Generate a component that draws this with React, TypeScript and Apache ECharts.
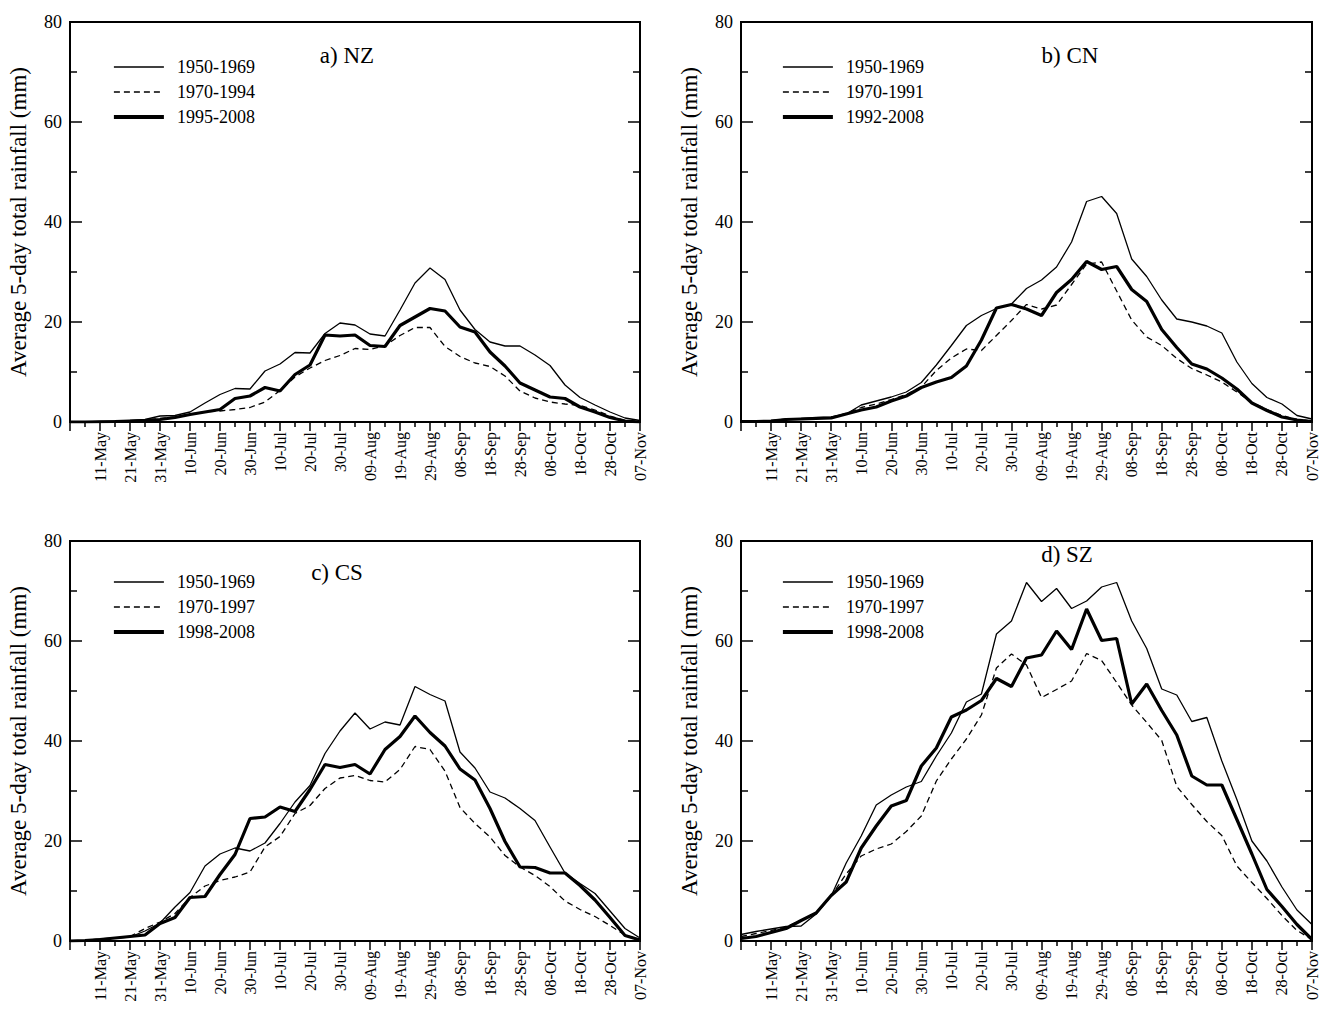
import React, { useEffect, useRef } from 'react';
import * as echarts from 'echarts';

// x positions: days since 01-May, one point per pentad
const pentadDays = [0, 5, 10, 15, 20, 25, 30, 35, 40, 45, 50, 55, 60, 65, 70, 75, 80, 85, 90, 95, 100, 105, 110, 115, 120, 125, 130, 135, 140, 145, 150, 155, 160, 165, 170, 175, 180, 185, 190];

// tick labels at days 10, 20, ..., 190
const xTickLabels = ['11-May', '21-May', '31-May', '10-Jun', '20-Jun', '30-Jun', '10-Jul', '20-Jul', '30-Jul', '09-Aug', '19-Aug', '29-Aug', '08-Sep', '18-Sep', '28-Sep', '08-Oct', '18-Oct', '28-Oct', '07-Nov'];

// a) NZ
const nzEarly = [0, 0, 0.1, 0.2, 0.3, 0.5, 1.2, 1.3, 2.0, 3.8, 5.5, 6.7, 6.6, 10.2, 11.6, 13.9, 13.8, 17.7, 19.8, 19.4, 17.6, 17.2, 22.4, 27.8, 30.8, 28.5, 22.4, 18.5, 16.0, 15.2, 15.2, 13.4, 11.3, 7.4, 4.9, 3.4, 2.0, 0.8, 0.3];
const nzMid = [0, 0, 0.05, 0.1, 0.2, 0.4, 0.7, 1.0, 1.6, 2.0, 2.2, 2.5, 2.9, 4.0, 6.3, 9.0, 10.8, 12.3, 13.3, 14.7, 14.5, 15.3, 17.3, 18.9, 18.9, 15.1, 13.1, 11.8, 11.1, 9.2, 6.2, 4.8, 4.0, 3.6, 3.3, 2.4, 1.2, 0.3, 0.1];
const nzLate = [0, 0, 0.05, 0.1, 0.2, 0.3, 0.5, 0.9, 1.5, 2.0, 2.5, 4.7, 5.2, 6.9, 6.2, 9.5, 11.4, 17.4, 17.2, 17.4, 15.3, 15.1, 19.3, 21.0, 22.7, 22.2, 19.0, 18.0, 14.0, 11.2, 7.8, 6.4, 5.0, 4.7, 3.0, 2.0, 0.9, 0.2, 0];

// b) CN
const cnEarly = [0.1, 0.2, 0.2, 0.6, 0.7, 0.9, 1.0, 1.6, 3.4, 4.2, 5.0, 6.0, 7.9, 11.4, 15.3, 19.3, 21.3, 22.7, 23.6, 26.7, 28.4, 31.0, 36.0, 44.1, 45.1, 41.7, 32.6, 29.1, 24.4, 20.6, 20.0, 19.2, 17.8, 12.0, 7.7, 4.9, 3.6, 1.3, 0.6];
const cnMid = [0.1, 0.2, 0.3, 0.5, 0.6, 0.8, 0.9, 1.7, 2.9, 3.6, 4.5, 5.5, 7.0, 10.3, 12.8, 14.6, 14.3, 17.3, 20.3, 23.5, 22.6, 23.4, 27.5, 31.6, 32.0, 26.2, 20.4, 17.0, 15.3, 12.7, 10.7, 9.4, 8.0, 6.0, 3.9, 2.5, 1.3, 0.5, 0.2];
const cnLate = [0.1, 0.1, 0.2, 0.5, 0.6, 0.7, 0.8, 1.6, 2.4, 3.0, 4.2, 5.2, 6.9, 8.0, 8.9, 11.2, 16.4, 22.8, 23.5, 22.6, 21.3, 25.9, 28.5, 32.1, 30.5, 31.1, 26.5, 24.1, 18.5, 14.9, 11.6, 10.6, 8.8, 6.6, 3.8, 2.3, 1.0, 0.4, 0.1];

// c) CS
const csEarly = [0, 0.1, 0.4, 0.6, 0.8, 2.0, 3.6, 6.8, 9.7, 15.0, 17.4, 18.6, 18.0, 19.6, 23.5, 27.8, 31.1, 37.5, 42.0, 45.6, 42.4, 43.8, 43.2, 50.9, 49.3, 48.0, 37.8, 34.6, 29.8, 28.6, 26.5, 24.1, 18.8, 13.6, 11.5, 9.5, 6.0, 2.5, 0.6];
const csMid = [0, 0.1, 0.3, 0.6, 0.9, 2.5, 3.8, 5.5, 8.7, 11.0, 12.1, 12.8, 13.8, 18.8, 20.9, 25.5, 27.1, 30.5, 32.6, 33.1, 32.1, 31.8, 34.3, 38.9, 38.3, 34.0, 26.7, 23.5, 20.8, 17.1, 14.8, 13.1, 10.9, 8.0, 6.3, 4.9, 3.1, 1.2, 0.3];
const csLate = [0, 0.1, 0.3, 0.6, 0.9, 1.2, 3.5, 4.7, 8.7, 8.9, 13.3, 17.3, 24.5, 24.8, 26.8, 25.9, 30.3, 35.3, 34.7, 35.3, 33.4, 38.3, 40.9, 45.0, 41.7, 39.0, 34.4, 32.2, 26.5, 19.9, 14.8, 14.7, 13.6, 13.6, 11.1, 8.2, 4.7, 1.1, 0.2];

// d) SZ
const szEarly = [1.3, 1.9, 2.4, 2.9, 3.0, 5.4, 9.0, 15.6, 21.0, 27.2, 29.2, 30.8, 31.9, 37.0, 41.6, 47.8, 49.4, 61.4, 64.0, 71.7, 67.9, 70.5, 66.5, 68.0, 70.8, 71.7, 64.0, 58.5, 50.4, 49.2, 43.9, 44.7, 36.0, 28.3, 20.0, 16.0, 10.8, 6.2, 3.3];
const szMid = [0.9, 1.5, 2.1, 2.8, 4.2, 5.7, 9.0, 13.4, 17.0, 18.4, 19.4, 21.9, 25.0, 32.0, 36.4, 40.4, 45.2, 54.6, 57.4, 55.2, 48.7, 50.3, 52.0, 57.5, 56.1, 51.7, 47.2, 43.7, 40.1, 30.9, 27.3, 23.9, 21.1, 15.0, 11.7, 8.5, 5.1, 2.1, 0.3];
const szLate = [0.5, 0.9, 1.7, 2.5, 4.1, 5.6, 9.1, 11.8, 18.6, 23.0, 27.0, 28.1, 35.0, 38.6, 44.8, 46.2, 48.1, 52.5, 50.9, 56.6, 57.2, 62.0, 58.3, 66.4, 60.1, 60.5, 47.4, 51.4, 46.1, 41.2, 33.0, 31.2, 31.2, 24.3, 17.4, 10.3, 6.9, 3.3, 0.3];

const panelTitles = ['a) NZ', 'b) CN', 'c) CS', 'd) SZ'];
const panelNames = [
  ['1950-1969', '1970-1994', '1995-2008'],
  ['1950-1969', '1970-1991', '1992-2008'],
  ['1950-1969', '1970-1997', '1998-2008'],
  ['1950-1969', '1970-1997', '1998-2008'],
];
const panelData = [
  [nzEarly, nzMid, nzLate],
  [cnEarly, cnMid, cnLate],
  [csEarly, csMid, csLate],
  [szEarly, szMid, szLate],
];

const yAxisTitle = 'Average 5-day total rainfall (mm)';

const FONT = 'Liberation Serif, Times New Roman, DejaVu Serif, serif';

const grids = [
  { left: 70, top: 22, width: 570, height: 400 },
  { left: 741, top: 22, width: 572, height: 400 },
  { left: 70, top: 541, width: 570, height: 400 },
  { left: 741, top: 541, width: 572, height: 400 },
];
const titlePos = [
  { x: 347, y: 44 },
  { x: 1070, y: 44 },
  { x: 337, y: 561 },
  { x: 1067, y: 543 },
];
const legendPos = [
  { x: 112, y: 58 },
  { x: 781, y: 58 },
  { x: 112, y: 573 },
  { x: 781, y: 573 },
];

const lineStyles = [
  { width: 1.3, type: 'solid' as any },
  { width: 1.3, type: [6, 4] as any },
  { width: 3.2, type: 'solid' as any },
];

function buildOption() {
  const xAxes: any[] = [];
  const yAxes: any[] = [];
  const series: any[] = [];
  const legends: any[] = [];
  const titles: any[] = [];

  grids.forEach((g, p) => {
    xAxes.push({
      gridIndex: p,
      type: 'value',
      min: 0,
      max: 190,
      interval: 10,
      axisLine: { show: true, onZero: false, lineStyle: { color: '#000', width: 2 } },
      axisTick: { show: true, inside: false, length: 9, lineStyle: { color: '#000', width: 1.5 } },
      minorTick: { show: true, splitNumber: 2, length: 5, lineStyle: { color: '#000', width: 1.5 } },
      splitLine: { show: false },
      minorSplitLine: { show: false },
      axisLabel: {
        rotate: 90,
        margin: 10,
        fontSize: 16,
        color: '#000',
        fontFamily: FONT,
        formatter: (v: number) => {
          const k = Math.round(v / 10) - 1;
          return k >= 0 && k < xTickLabels.length ? xTickLabels[k] : '';
        },
      },
    });
    const yCommon = {
      gridIndex: p,
      type: 'value',
      min: 0,
      max: 80,
      interval: 20,
      axisLine: { show: true, onZero: false, lineStyle: { color: '#000', width: 2 } },
      axisTick: { show: true, inside: true, length: 12, lineStyle: { color: '#000', width: 1.5 } },
      minorTick: { show: true, splitNumber: 2, length: 7, lineStyle: { color: '#000', width: 1.5 } },
      splitLine: { show: false },
      minorSplitLine: { show: false },
    };
    yAxes.push({
      ...yCommon,
      position: 'left',
      axisLabel: { show: true, margin: 8, fontSize: 18, color: '#000', fontFamily: FONT },
      name: yAxisTitle,
      nameLocation: 'middle',
      nameGap: 40,
      nameTextStyle: { fontSize: 23, color: '#000', fontFamily: FONT },
    });
    yAxes.push({
      ...yCommon,
      position: 'right',
      axisLabel: { show: false },
    });

    panelNames[p].forEach((name, s) => {
      series.push({
        type: 'line',
        name,
        xAxisIndex: p,
        yAxisIndex: p * 2,
        symbol: 'none',
        showSymbol: false,
        smooth: false,
        lineStyle: { color: '#000', width: lineStyles[s].width, type: lineStyles[s].type },
        itemStyle: { color: '#000' },
        data: pentadDays.map((d, i) => [d, panelData[p][s][i]]),
        z: 3 + s,
      });
    });

    legends.push({
      data: panelNames[p].map((name, s) => ({
        name,
        lineStyle: { color: '#000', width: lineStyles[s].width + (s === 2 ? 0.6 : 0), type: lineStyles[s].type },
      })),
      orient: 'vertical',
      left: legendPos[p].x,
      top: legendPos[p].y,
      padding: 0,
      itemWidth: 50,
      itemHeight: 16,
      itemGap: 7,
      selectedMode: false,
      itemStyle: { color: 'transparent', borderColor: 'transparent', borderWidth: 0, opacity: 0 },
      textStyle: { fontSize: 18, color: '#000', fontFamily: FONT, padding: [0, 0, 0, 8] },
    });

    titles.push({
      text: panelTitles[p],
      left: titlePos[p].x,
      top: titlePos[p].y,
      textAlign: 'center',
      padding: 0,
      textStyle: { fontSize: 23, fontWeight: 'normal', color: '#000', fontFamily: FONT },
    });
  });

  return {
    animation: false,
    backgroundColor: '#fff',
    title: titles,
    legend: legends,
    grid: grids.map((g) => ({ ...g, show: true, borderColor: '#000', borderWidth: 2, backgroundColor: 'transparent', containLabel: false })),
    xAxis: xAxes,
    yAxis: yAxes,
    series,
  };
}

export default function App() {
  const ref = useRef<HTMLDivElement>(null);
  useEffect(() => {
    if (!ref.current) return;
    const chart = echarts.init(ref.current, null, { renderer: 'svg' });
    chart.setOption(buildOption() as any);
    return () => chart.dispose();
  }, []);
  return (
    <div
      ref={ref}
      style={{ position: 'fixed', left: 0, top: 0, width: 1320, height: 1017, background: '#fff' }}
    />
  );
}
